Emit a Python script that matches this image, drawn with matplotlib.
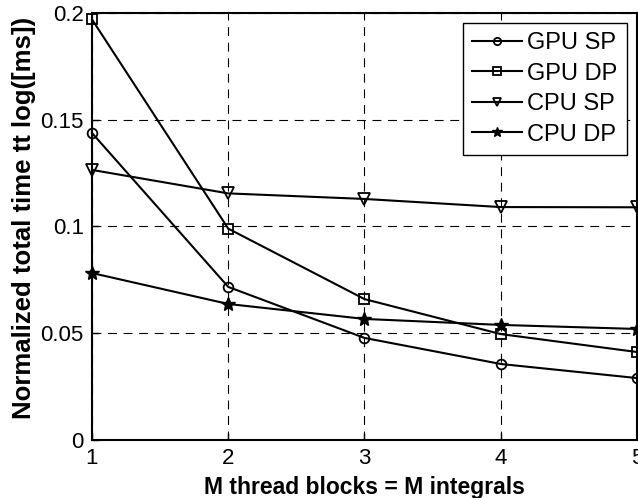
import matplotlib
matplotlib.use("Agg")
import matplotlib.pyplot as plt

plt.rcParams['font.family'] = ['Liberation Sans', 'DejaVu Sans']

m_blocks = [1, 2, 3, 4, 5]
gpu_sp = [0.1438, 0.0717, 0.0478, 0.0356, 0.0290]
gpu_dp = [0.1970, 0.0990, 0.0660, 0.0496, 0.0412]
cpu_sp = [0.1265, 0.1155, 0.1129, 0.1091, 0.1090]
cpu_dp = [0.0782, 0.0637, 0.0567, 0.0539, 0.0520]

fig = plt.figure(figsize=(6.38, 4.98), dpi=100)
ax = fig.add_axes([0.1442, 0.1165, 0.8542, 0.8574])

ax.plot(m_blocks, gpu_sp, 'k-o', lw=1.5, ms=7, mfc='none', mew=1.3, label='GPU SP', clip_on=False)
ax.plot(m_blocks, gpu_dp, 'k-s', lw=1.5, ms=7, mfc='none', mew=1.3, label='GPU DP', clip_on=False)
ax.plot(m_blocks, cpu_sp, 'k-v', lw=1.5, ms=8, mfc='none', mew=1.3, label='CPU SP', clip_on=False)
ax.plot(m_blocks, cpu_dp, 'k-*', lw=1.5, ms=10, mfc='k', mew=1.0, label='CPU DP', clip_on=False)

ax.set_xlim(1, 5)
ax.set_ylim(0, 0.2)
ax.set_xticks([1, 2, 3, 4, 5])
ax.set_yticks([0, 0.05, 0.1, 0.15, 0.2])
ax.set_yticklabels(['0', '0.05', '0.1', '0.15', '0.2'])
ax.tick_params(direction='in', labelsize=16, length=5, width=1)
ax.tick_params(axis='x', pad=6)
ax.tick_params(axis='y', pad=6)
ax.grid(True, color='k', linestyle=(0, (8, 6)), linewidth=0.8)
for s in ax.spines.values():
    s.set_linewidth(1.5)

ax.set_xlabel('M thread blocks = M integrals', fontsize=16.5, fontweight='bold', labelpad=5)
ax.set_ylabel('Normalized total time tt log([ms])', fontsize=18.5, fontweight='bold', labelpad=3)
ax.yaxis.label.set_y(0.52)

leg = ax.legend(loc='upper right', fontsize=17, frameon=True, fancybox=False,
                edgecolor='k', framealpha=1, handlelength=2.1, borderpad=0.4,
                labelspacing=0.36, handletextpad=0.25, markerscale=0.75,
                borderaxespad=0, bbox_to_anchor=(0.982, 0.977))
leg.get_frame().set_linewidth(1.0)

fig.savefig('out.png', dpi=100)
